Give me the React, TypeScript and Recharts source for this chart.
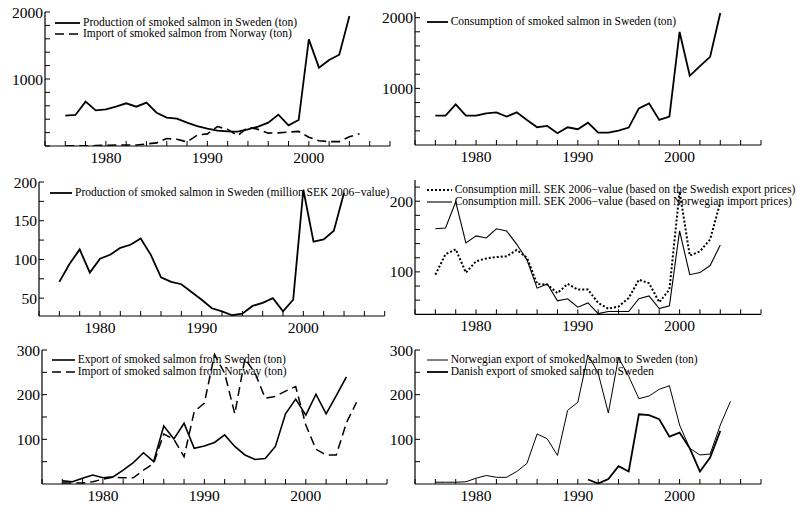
import React from 'react';
import { LineChart, Line, XAxis, YAxis } from 'recharts';

// years covered by the series (1976-2005)
const years = [
  1976, 1977, 1978, 1979, 1980, 1981, 1982, 1983, 1984, 1985, 1986, 1987, 1988, 1989, 1990,
  1991, 1992, 1993, 1994, 1995, 1996, 1997, 1998, 1999, 2000, 2001, 2002, 2003, 2004, 2005,
];

// production in Sweden, ton
const prodTon = [
  453, 463, 662, 532, 547, 587, 637, 587, 647, 497, 423, 408, 348, 298, 259,
  229, 219, 214, 249, 289, 348, 468, 308, 388, 1592, 1169, 1284, 1363, 1940, null,
];
// import from Norway, ton
const importNorway = [
  2, 2, 2, 5, 11, 15, 14, 14, 31, 46, 112, 100, 61, 162, 181,
  290, 248, 157, 281, 248, 192, 196, 208, 218, 132, 78, 65, 65, 137, 183,
];
// consumption in Sweden, ton
const consTon = [
  615, 615, 775, 615, 615, 648, 662, 601, 662, 554, 451, 469, 366, 451, 423,
  516, 376, 376, 404, 446, 718, 789, 554, 601, 1798, 1178, 1315, 1446, 2066, null,
];
// production, million SEK 2006-value
const prodMSEK = [
  71, 94, 113, 83, 101, 106, 115, 119, 127, 106, 77, 71, 68, 58, 48,
  37, 33, 28, 30, 40, 44, 50, 33, 48, 190, 123, 126, 137, 186, null,
];
// consumption mill. SEK (Swedish export prices)
const consSwe = [
  96, 125, 132, 99, 115, 119, 121, 122, 131, 120, 83, 82, 70, 83, 75,
  75, 56, 48, 51, 63, 89, 84, 57, 75, 214, 123, 129, 146, 198, null,
];
// consumption mill. SEK (Norwegian import prices)
const consNor = [
  161, 162, 199, 141, 151, 148, 161, 158, 139, 117, 77, 83, 59, 62, 50,
  56, 41, 44, 44, 44, 62, 66, 48, 52, 158, 96, 99, 109, 138, null,
];
// export from Sweden, ton
const exportSwe = [
  7, 5, 13, 20, 14, 16, 31, 48, 70, 50, 130, 101, 136, 80, 85,
  93, 110, 84, 65, 55, 57, 84, 157, 190, 154, 201, 157, 198, 240, null,
];
// Norwegian export to Sweden, ton
const norExport = [
  4, 4, 4, 5, 13, 19, 15, 15, 28, 46, 112, 101, 64, 165, 183,
  289, 248, 159, 283, 241, 191, 197, 212, 220, 132, 80, 65, 67, 132, 185,
];
// Danish export to Sweden
const danExport = [
  null, null, null, null, null, null, null, null, null, null, null, null, null, null, null,
  10, 1, 11, 40, 28, 156, 154, 145, 106, 115, 80, 28, 59, 119, null,
];

const xTicks = [
  1974, 1976, 1978, 1980, 1982, 1984, 1986, 1988, 1990, 1992, 1994, 1996, 1998, 2000,
  2002, 2004, 2006, 2008,
];
const xLabels = [1980, 1990, 2000];

const rows = years.map((year, i) => ({
  year,
  prodTon: prodTon[i],
  importNorway: importNorway[i],
  consTon: consTon[i],
  prodMSEK: prodMSEK[i],
  consSwe: consSwe[i],
  consNor: consNor[i],
  exportSwe: exportSwe[i],
  norExport: norExport[i],
  danExport: danExport[i],
}));

const FONT = "'Liberation Serif', 'Times New Roman', Times, 'DejaVu Serif', serif";
const YW = 38;
const MT = 10;
const MR = 8;
const XH = 26;

type Series = { key: string; label: string; width: number; dash?: string };

type PanelProps = {
  x1: number;
  x2: number;
  y1: number;
  y2: number;
  yDomain: [number, number];
  yTicks: number[];
  yLabels: number[];
  series: Series[];
  legend: { x: number; y: number; len: number };
};

function Panel({ x1, x2, y1, y2, yDomain, yTicks, yLabels, series, legend }: PanelProps) {
  const width = x2 - x1 + YW + MR;
  const height = y2 - y1 + MT + XH;
  return (
    <>
      <div style={{ position: 'absolute', left: x1 - YW, top: y1 - MT }}>
        <LineChart width={width} height={height} data={rows} margin={{ top: MT, right: MR, left: 0, bottom: 0 }}>
          <XAxis
            dataKey='year'
            type='number'
            domain={[1974, 2008]}
            ticks={xTicks}
            interval={0}
            allowDataOverflow
            height={XH}
            tickSize={-5}
            tickMargin={11}
            tickFormatter={(v: number) => (xLabels.includes(v) ? String(v) : '')}
            axisLine={{ stroke: '#000', strokeWidth: 1.2 }}
            tickLine={{ stroke: '#000' }}
            tick={{ fill: '#000', fontSize: 15.5, fontFamily: FONT }}
          />
          <YAxis
            type='number'
            domain={yDomain}
            ticks={yTicks}
            interval={0}
            allowDataOverflow
            width={YW}
            tickSize={-5}
            tickMargin={7}
            tickFormatter={(v: number) => (yLabels.includes(v) ? String(v) : '')}
            axisLine={{ stroke: '#000', strokeWidth: 1.2 }}
            tickLine={{ stroke: '#000' }}
            tick={{ fill: '#000', fontSize: 15.5, fontFamily: FONT }}
          />
          {series.map((s) => (
            <Line
              key={s.key}
              type='linear'
              dataKey={s.key}
              stroke='#000'
              strokeWidth={s.width}
              strokeDasharray={s.dash}
              dot={false}
              activeDot={false}
              isAnimationActive={false}
            />
          ))}
        </LineChart>
      </div>
      {/* legend */}
      <div style={{ position: 'absolute', left: legend.x, top: legend.y - 6 }}>
        {series.map((s) => (
          <div
            key={s.key}
            style={{ display: 'flex', alignItems: 'center', height: 11.7, whiteSpace: 'nowrap' }}
          >
            <svg width={legend.len} height={6} style={{ display: 'block' }}>
              <line
                x1={0}
                y1={3}
                x2={legend.len}
                y2={3}
                stroke='#000'
                strokeWidth={s.width}
                strokeDasharray={s.dash}
              />
            </svg>
            <span style={{ marginLeft: 3, fontFamily: FONT, fontSize: 11.5, color: '#000', lineHeight: '11.7px' }}>
              {s.label}
            </span>
          </div>
        ))}
      </div>
    </>
  );
}

export default function App() {
  return (
    <div style={{ position: 'absolute', left: 0, top: 0, width: 797, height: 507, background: '#fff' }}>
      <Panel
        x1={45}
        x2={390}
        y1={12}
        y2={146}
        yDomain={[0, 2000]}
        yTicks={[0, 200, 400, 600, 800, 1000, 1200, 1400, 1600, 1800, 2000]}
        yLabels={[1000, 2000]}
        series={[
          { key: 'prodTon', label: 'Production of smoked salmon in Sweden (ton)', width: 1.8 },
          { key: 'importNorway', label: 'Import of smoked salmon from Norway (ton)', width: 1.6, dash: '9 5' },
        ]}
        legend={{ x: 55, y: 22.7, len: 25 }}
      />
      <Panel
        x1={415}
        x2={761}
        y1={12}
        y2={145}
        yDomain={[200, 2080]}
        yTicks={[400, 600, 800, 1000, 1200, 1400, 1600, 1800, 2000]}
        yLabels={[1000, 2000]}
        series={[{ key: 'consTon', label: 'Consumption of smoked salmon in Sweden (ton)', width: 1.8 }]}
        legend={{ x: 426.7, y: 21.7, len: 21 }}
      />
      <Panel
        x1={39.3}
        x2={385}
        y1={182}
        y2={316}
        yDomain={[27, 200]}
        yTicks={[50, 75, 100, 125, 150, 175, 200]}
        yLabels={[50, 100, 150, 200]}
        series={[
          { key: 'prodMSEK', label: 'Production of smoked salmon in Sweden (million SEK 2006\u2212value)', width: 1.8 },
        ]}
        legend={{ x: 50, y: 192.7, len: 22 }}
      />
      <Panel
        x1={415}
        x2={761}
        y1={180}
        y2={314.3}
        yDomain={[40, 230]}
        yTicks={[60, 80, 100, 120, 140, 160, 180, 200, 220]}
        yLabels={[100, 200]}
        series={[
          {
            key: 'consSwe',
            label: 'Consumption mill. SEK 2006\u2212value (based on the Swedish export prices)',
            width: 2,
            dash: '2 2',
          },
          {
            key: 'consNor',
            label: 'Consumption mill. SEK 2006\u2212value (based on Norwegian import prices)',
            width: 1.1,
          },
        ]}
        legend={{ x: 426.7, y: 190, len: 25 }}
      />
      <Panel
        x1={41.7}
        x2={386.7}
        y1={350}
        y2={484}
        yDomain={[0, 300]}
        yTicks={[50, 100, 150, 200, 250, 300]}
        yLabels={[100, 200, 300]}
        series={[
          { key: 'exportSwe', label: 'Export of smoked salmon from Sweden (ton)', width: 1.6 },
          { key: 'importNorway', label: 'Import of smoked salmon from Norway (ton)', width: 1.5, dash: '9 5' },
        ]}
        legend={{ x: 51.7, y: 360, len: 23 }}
      />
      <Panel
        x1={415}
        x2={761}
        y1={350}
        y2={484}
        yDomain={[0, 300]}
        yTicks={[50, 100, 150, 200, 250, 300]}
        yLabels={[100, 200, 300]}
        series={[
          { key: 'norExport', label: 'Norwegian export of smoked salmon to Sweden (ton)', width: 1 },
          { key: 'danExport', label: 'Danish export of smoked salmon to Sweden', width: 1.8 },
        ]}
        legend={{ x: 426.7, y: 360, len: 21 }}
      />
    </div>
  );
}
